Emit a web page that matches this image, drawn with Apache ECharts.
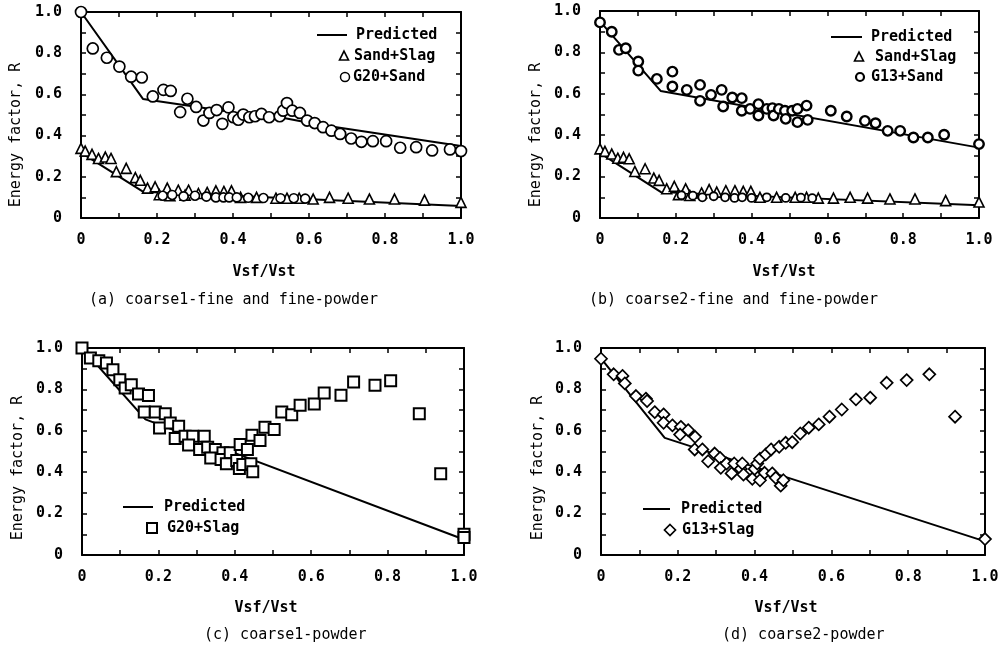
<!DOCTYPE html>
<html><head><meta charset="utf-8">
<script src="https://cdn.jsdelivr.net/npm/echarts@6/dist/echarts.min.js"></script>
<style>html,body{margin:0;padding:0;background:#fff;}#c{width:1003px;height:654px;}</style>
</head><body><div id="c"></div><script>
// ---------- tick labels ----------
const tickLabels = ['0','0.2','0.4','0.6','0.8','1.0'];
const xTitle = 'Vsf/Vst';
const yTitle = 'Energy factor, R';
const captions = ['(a) coarse1-fine and fine-powder','(b) coarse2-fine and fine-powder','(c) coarse1-powder','(d) coarse2-powder'];

// ---------- panel (a) ----------
const aPredUpper = [[0,1.0],[0.163,0.578],[0.45,0.50],[0.52,0.49],[0.62,0.455],[1.0,0.35]];
const aPredLower = [[0,0.317],[0.163,0.128],[1.0,0.058]];
const aSandSlag = [[0,0.338],[0.011,0.325],[0.029,0.309],[0.046,0.289],[0.064,0.296],[0.079,0.289],[0.093,0.225],[0.119,0.241],[0.143,0.196],[0.156,0.183],[0.175,0.145],[0.195,0.151],[0.206,0.113],[0.227,0.145],[0.234,0.108],[0.256,0.135],[0.274,0.111],[0.283,0.135],[0.309,0.119],[0.332,0.124],[0.355,0.132],[0.376,0.129],[0.396,0.132],[0.420,0.100],[0.462,0.100],[0.513,0.096],[0.542,0.096],[0.574,0.096],[0.611,0.092],[0.654,0.100],[0.703,0.096],[0.759,0.092],[0.825,0.092],[0.904,0.087],[1.0,0.076]];
const aG20Sand = [[0,1.0],[0.031,0.823],[0.068,0.778],[0.101,0.735],[0.132,0.686],[0.160,0.682],[0.189,0.590],[0.217,0.622],[0.236,0.617],[0.261,0.514],[0.280,0.579],[0.303,0.539],[0.322,0.473],[0.338,0.510],[0.357,0.524],[0.372,0.457],[0.388,0.537],[0.401,0.489],[0.414,0.477],[0.427,0.502],[0.443,0.489],[0.458,0.494],[0.475,0.505],[0.495,0.489],[0.523,0.494],[0.532,0.521],[0.542,0.558],[0.556,0.521],[0.576,0.510],[0.595,0.473],[0.615,0.461],[0.637,0.441],[0.659,0.424],[0.682,0.408],[0.711,0.386],[0.738,0.370],[0.768,0.373],[0.803,0.373],[0.840,0.341],[0.882,0.344],[0.924,0.328],[0.971,0.333],[1.0,0.325]];
const aG20SandLow = [[0.215,0.108],[0.24,0.112],[0.27,0.105],[0.30,0.108],[0.33,0.104],[0.355,0.100],[0.375,0.100],[0.39,0.100],[0.41,0.100],[0.44,0.098],[0.48,0.097],[0.525,0.096],[0.56,0.096],[0.59,0.094]];

// ---------- panel (b) ----------
const bPredUpper = [[0,0.95],[0.16,0.614],[1.0,0.34]];
const bPredLower = [[0,0.313],[0.161,0.125],[1.0,0.061]];
const bSandSlag = [[0,0.334],[0.013,0.322],[0.031,0.309],[0.047,0.289],[0.062,0.293],[0.077,0.286],[0.092,0.225],[0.119,0.238],[0.142,0.193],[0.156,0.182],[0.176,0.141],[0.196,0.153],[0.207,0.113],[0.226,0.141],[0.237,0.109],[0.268,0.121],[0.288,0.137],[0.308,0.125],[0.332,0.132],[0.356,0.132],[0.378,0.129],[0.398,0.129],[0.422,0.100],[0.466,0.100],[0.515,0.100],[0.545,0.100],[0.576,0.096],[0.616,0.096],[0.660,0.100],[0.706,0.096],[0.765,0.092],[0.831,0.092],[0.912,0.084],[1.0,0.077]];
const bG13Sand = [[0,0.945],[0.031,0.900],[0.050,0.812],[0.068,0.820],[0.101,0.756],[0.101,0.712],[0.150,0.672],[0.191,0.707],[0.191,0.635],[0.229,0.619],[0.264,0.643],[0.264,0.566],[0.293,0.595],[0.321,0.619],[0.325,0.539],[0.349,0.582],[0.374,0.579],[0.374,0.518],[0.396,0.527],[0.418,0.550],[0.418,0.495],[0.440,0.527],[0.455,0.531],[0.458,0.495],[0.472,0.527],[0.488,0.518],[0.490,0.479],[0.507,0.518],[0.521,0.527],[0.521,0.463],[0.545,0.543],[0.548,0.474],[0.609,0.518],[0.651,0.490],[0.699,0.469],[0.727,0.458],[0.759,0.421],[0.792,0.421],[0.827,0.389],[0.865,0.389],[0.908,0.402],[1.0,0.357]];
const bG13SandLow = [[0.215,0.110],[0.245,0.108],[0.27,0.100],[0.30,0.105],[0.33,0.100],[0.355,0.097],[0.375,0.100],[0.40,0.097],[0.44,0.100],[0.49,0.097],[0.53,0.098],[0.56,0.096]];

// ---------- panel (c) ----------
const cPred = [[0,1.0],[0.166,0.655],[1.0,0.075]];
const cG20Slag = [[0,1.0],[0.022,0.952],[0.044,0.939],[0.064,0.928],[0.081,0.895],[0.099,0.847],[0.113,0.807],[0.129,0.823],[0.148,0.778],[0.174,0.770],[0.163,0.691],[0.192,0.691],[0.218,0.682],[0.203,0.614],[0.231,0.638],[0.253,0.622],[0.244,0.563],[0.270,0.574],[0.290,0.574],[0.320,0.574],[0.279,0.531],[0.308,0.510],[0.329,0.521],[0.349,0.510],[0.337,0.469],[0.369,0.494],[0.364,0.461],[0.388,0.494],[0.378,0.441],[0.405,0.457],[0.414,0.534],[0.433,0.510],[0.412,0.418],[0.421,0.437],[0.442,0.441],[0.447,0.402],[0.445,0.579],[0.466,0.553],[0.479,0.617],[0.503,0.606],[0.523,0.691],[0.549,0.678],[0.571,0.723],[0.608,0.730],[0.634,0.783],[0.678,0.772],[0.711,0.836],[0.767,0.820],[0.808,0.842],[0.883,0.682],[0.939,0.392],[1.0,0.100],[1.0,0.085]];

// ---------- panel (d) ----------
const dPred = [[0,0.95],[0.166,0.566],[1.0,0.066]];
const dG13Slag = [[0,0.948],[0.033,0.873],[0.056,0.865],[0.062,0.829],[0.091,0.768],[0.117,0.755],[0.120,0.744],[0.140,0.690],[0.163,0.679],[0.163,0.639],[0.186,0.626],[0.208,0.619],[0.206,0.582],[0.227,0.603],[0.245,0.571],[0.244,0.510],[0.264,0.510],[0.279,0.453],[0.296,0.490],[0.310,0.469],[0.312,0.421],[0.327,0.442],[0.340,0.394],[0.347,0.442],[0.364,0.416],[0.368,0.442],[0.371,0.389],[0.394,0.368],[0.400,0.416],[0.407,0.442],[0.414,0.361],[0.414,0.465],[0.426,0.397],[0.429,0.486],[0.443,0.510],[0.446,0.394],[0.455,0.373],[0.464,0.523],[0.468,0.335],[0.475,0.361],[0.481,0.542],[0.498,0.545],[0.519,0.587],[0.541,0.615],[0.567,0.631],[0.595,0.668],[0.627,0.703],[0.664,0.752],[0.701,0.760],[0.744,0.832],[0.796,0.845],[0.855,0.873],[0.922,0.668],[1.0,0.077]];

// ---------- layout ----------
const FONT = '"DejaVu Sans Mono", "Liberation Mono", monospace';
const grids = [
  {left:81, top:12, width:380, height:206},
  {left:600, top:11, width:379, height:207},
  {left:82, top:348, width:382, height:207},
  {left:601, top:348, width:384, height:207}
];
function fmt(v){ const k = Math.round(v*10); return (k % 2 === 0) ? tickLabels[k/2] : ''; }
const xAxes = [], yAxes = [];
grids.forEach((g, i) => {
  const common = () => ({type:'value', min:0, max:1, interval:0.1, gridIndex:i, splitLine:{show:false},
    axisLine:{show:true, onZero:false, lineStyle:{color:'#000', width:2}},
    axisTick:{show:true, inside:true, length:5, lineStyle:{color:'#000', width:1.5}}});
  const lab = (m) => ({show:true, formatter:fmt, color:'#000', fontFamily:FONT, fontWeight:'bold', fontSize:15, margin:m, showMinLabel:true, showMaxLabel:true});
  xAxes.push(Object.assign(common(), {position:'bottom', axisLabel:lab(15)}));
  xAxes.push(Object.assign(common(), {position:'top', axisLabel:{show:false}}));
  yAxes.push(Object.assign(common(), {position:'left', axisLabel:lab(19)}));
  yAxes.push(Object.assign(common(), {position:'right', axisLabel:{show:false}}));
});

function scat(i, name, data, symbol, size, bw){
  return {type:'scatter', name, xAxisIndex:2*i, yAxisIndex:2*i, data, symbol, symbolSize:size, clip:false, silent:true, z:3,
    itemStyle:{color:'#fff', borderColor:'#000', borderWidth:bw, opacity:1}};
}
function pline(i, data){
  return {type:'line', name:'Predicted', xAxisIndex:2*i, yAxisIndex:2*i, data, symbol:'none', silent:true, z:2,
    lineStyle:{color:'#000', width:2}};
}
const series = [
  pline(0, aPredUpper), pline(0, aPredLower),
  scat(0, 'Sand+Slag', aSandSlag, 'triangle', 10, 1.6),
  scat(0, 'G20+Sand', aG20Sand, 'circle', 11, 1.7),
  scat(0, 'G20+Sand', aG20SandLow, 'circle', 9, 1.6),
  pline(1, bPredUpper), pline(1, bPredLower),
  scat(1, 'Sand+Slag', bSandSlag, 'triangle', 10, 1.6),
  scat(1, 'G13+Sand', bG13Sand, 'circle', 9.5, 2.4),
  scat(1, 'G13+Sand', bG13SandLow, 'circle', 8, 1.8),
  pline(2, cPred),
  scat(2, 'G20+Slag', cG20Slag, 'rect', 11, 2),
  pline(3, dPred),
  scat(3, 'G13+Slag', dG13Slag, 'diamond', [12,12], 1.7)
];

// ---------- texts & legends (graphic) ----------
function txt(x, y, s, opt){
  opt = opt || {};
  return {type:'text', x, y, rotation:opt.rot || 0, silent:true, z:10,
    style:{text:s, fill:'#000', font:(opt.bold ? 'bold ' : '') + (opt.size || 15) + 'px ' + FONT,
      textAlign:opt.align || 'left', align:opt.align || 'left', textVerticalAlign:'middle', verticalAlign:'middle'}};
}
function lineG(x1, y, x2){ return {type:'line', silent:true, z:10, shape:{x1, y1:y, x2, y2:y}, style:{stroke:'#000', lineWidth:2}}; }
function circG(cx, cy, r, lw){ return {type:'circle', silent:true, z:10, shape:{cx, cy, r}, style:{fill:'#fff', stroke:'#000', lineWidth:lw}}; }
function triG(cx, cy, s){ return {type:'polygon', silent:true, z:10, shape:{points:[[cx, cy-s*0.55],[cx+s*0.5, cy+s*0.45],[cx-s*0.5, cy+s*0.45]]}, style:{fill:'#fff', stroke:'#000', lineWidth:1.6}}; }
function rectG(cx, cy, s){ return {type:'rect', silent:true, z:10, shape:{x:cx-s/2, y:cy-s/2, width:s, height:s}, style:{fill:'#fff', stroke:'#000', lineWidth:2}}; }
function diaG(cx, cy, s){ return {type:'polygon', silent:true, z:10, shape:{points:[[cx, cy-s/2],[cx+s/2, cy],[cx, cy+s/2],[cx-s/2, cy]]}, style:{fill:'#fff', stroke:'#000', lineWidth:1.7}}; }

const graphics = [
  // y titles
  txt(16, 135, yTitle, {rot:Math.PI/2, align:'center'}),
  txt(536, 135, yTitle, {rot:Math.PI/2, align:'center'}),
  txt(18, 468, yTitle, {rot:Math.PI/2, align:'center'}),
  txt(538, 468, yTitle, {rot:Math.PI/2, align:'center'}),
  // x titles
  txt(264, 272, xTitle, {bold:true, align:'center'}),
  txt(784, 272, xTitle, {bold:true, align:'center'}),
  txt(266, 608, xTitle, {bold:true, align:'center'}),
  txt(786, 608, xTitle, {bold:true, align:'center'}),
  // captions
  txt(89, 300, captions[0]),
  txt(589, 300, captions[1]),
  txt(204, 635, captions[2]),
  txt(722, 635, captions[3]),
  // legend a
  lineG(317, 35, 347), txt(356, 35, 'Predicted', {bold:true}),
  triG(344, 56, 9), txt(354, 56, 'Sand+Slag', {bold:true}),
  circG(345, 77, 4.5, 1.5), txt(353, 77, 'G20+Sand', {bold:true}),
  // legend b
  lineG(831, 37, 862), txt(871, 37, 'Predicted', {bold:true}),
  triG(859, 57, 9), txt(875, 57, 'Sand+Slag', {bold:true}),
  circG(860, 77, 4, 2.2), txt(871, 77, 'G13+Sand', {bold:true}),
  // legend c
  lineG(123, 507, 153), txt(164, 507, 'Predicted', {bold:true}),
  rectG(152, 528, 10), txt(167, 528, 'G20+Slag', {bold:true}),
  // legend d
  lineG(643, 509, 670), txt(681, 509, 'Predicted', {bold:true}),
  diaG(670, 530, 11), txt(682, 530, 'G13+Slag', {bold:true})
];

const chart = echarts.init(document.getElementById('c'), null, {renderer:'canvas'});
chart.setOption({
  backgroundColor:'#fff',
  animation:false,
  grid:grids.map(g => Object.assign({containLabel:false, show:false}, g)),
  xAxis:xAxes,
  yAxis:yAxes,
  series:series,
  graphic:graphics
});
</script></body></html>
